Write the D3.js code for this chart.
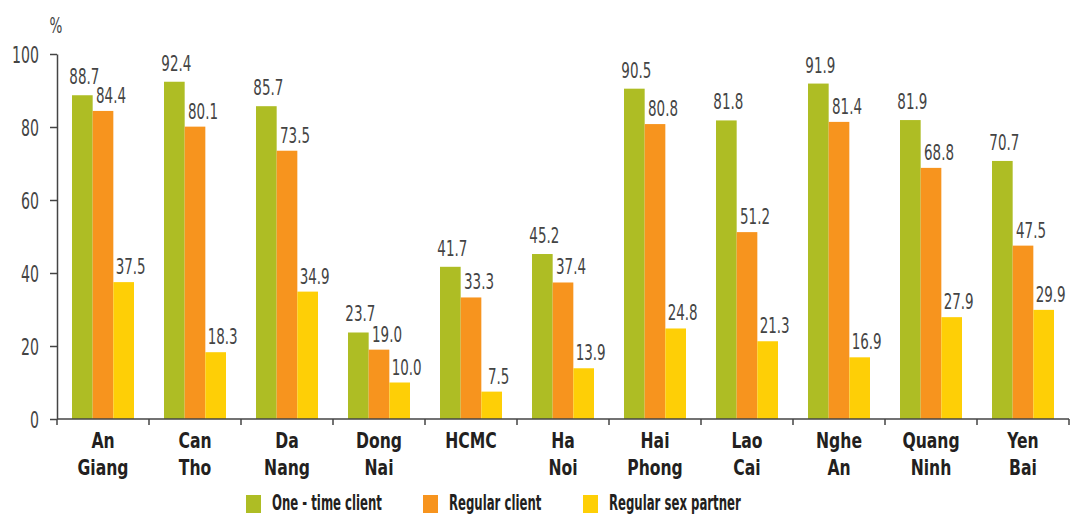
<!DOCTYPE html>
<html>
<head>
<meta charset="utf-8">
<script src="https://cdn.jsdelivr.net/npm/d3@7"></script>
<style>
  html, body { margin: 0; padding: 0; background: #fff; }
  svg { display: block; }
  text { font-family: "Liberation Sans Narrow", "DejaVu Sans Condensed", "Roboto", sans-serif; }
</style>
</head>
<body>
<svg id="chart" width="1070" height="515"></svg>
<script>
// Provinces (two-line labels)
const provinces = [
  ["An", "Giang"], ["Can", "Tho"], ["Da", "Nang"], ["Dong", "Nai"], ["HCMC", ""],
  ["Ha", "Noi"], ["Hai", "Phong"], ["Lao", "Cai"], ["Nghe", "An"], ["Quang", "Ninh"], ["Yen", "Bai"]
];
const seriesNames = ["One - time client", "Regular client", "Regular sex partner"];
const oneTimeClient = [88.7, 92.4, 85.7, 23.7, 41.7, 45.2, 90.5, 81.8, 91.9, 81.9, 70.7];
const regularClient = [84.4, 80.1, 73.5, 19.0, 33.3, 37.4, 80.8, 51.2, 81.4, 68.8, 47.5];
const regularPartner = [37.5, 18.3, 34.9, 10.0, 7.5, 13.9, 24.8, 21.3, 16.9, 27.9, 29.9];
const yTicks = [0, 20, 40, 60, 80, 100];

const seriesValues = [oneTimeClient, regularClient, regularPartner];
const colors = ["#aebd24", "#f7941e", "#fecf06"];

const svg = d3.select("#chart");
const margin = { left: 57, right: 1069, top: 54, bottom: 419 };

// Horizontal compression so the labels read like a condensed face
function widthOf(str, size, weight) {
  const t = svg.append("text").attr("font-size", size).attr("font-weight", weight).text(str);
  const w = t.node().getComputedTextLength();
  t.remove();
  return w;
}
function squeeze(sel, factor) {
  sel.each(function () {
    const el = d3.select(this);
    const tx = +el.attr("x") || 0, ty = +el.attr("y") || 0;
    el.attr("x", 0).attr("y", 0)
      .attr("transform", `translate(${tx},${ty}) scale(${factor},1)`);
  });
}
const valueSize = 20.5, valueFactor = 30 / widthOf("88.7", valueSize, "normal");
const tickSize = 23, tickFactor = 27 / widthOf("100", tickSize, "normal");
const catSize = 21, catFactor = 51 / widthOf("Giang", catSize, "bold");
const legSize = 21, legFactor = 110 / widthOf("One - time client", legSize, "bold");

const keys = provinces.map(p => p.join(" ").trim());
const x = d3.scaleBand().domain(keys).range([margin.left, margin.right]).padding(0);
const xInner = d3.scaleBand().domain(d3.range(3)).range([15, x.bandwidth() - 15]).padding(0);
const y = d3.scaleLinear().domain([0, 100]).range([margin.bottom, margin.top]);

// Bars and value labels
const labelDx = [2, 8, 7];
const labelGap = [11, 8, 8];
keys.forEach((k, i) => {
  const g = svg.append("g").attr("transform", `translate(${x(k)},0)`);
  seriesValues.forEach((vals, s) => {
    const v = vals[i];
    g.append("rect")
      .attr("x", xInner(s))
      .attr("y", y(v))
      .attr("width", xInner.bandwidth())
      .attr("height", y(0) - y(v))
      .attr("fill", colors[s]);
    g.append("text")
      .attr("class", "val")
      .attr("x", xInner(s) + xInner.bandwidth() / 2 + labelDx[s])
      .attr("y", y(v) - labelGap[s])
      .attr("text-anchor", "middle")
      .attr("font-size", valueSize)
      .attr("fill", "#444")
      .text(v.toFixed(1));
  });
});
squeeze(svg.selectAll("text.val"), valueFactor);

// Y axis
const yAxis = d3.axisLeft(y).tickValues(yTicks).tickSize(7).tickPadding(11).tickSizeOuter(0);
const gy = svg.append("g").attr("transform", `translate(${margin.left},0)`).call(yAxis);
gy.select(".domain").attr("stroke", "#444").attr("stroke-width", 1.5);
gy.selectAll(".tick line").attr("stroke", "#444").attr("stroke-width", 1.5);
gy.selectAll(".tick text")
  .attr("font-size", tickSize).attr("fill", "#444").attr("dy", "0.36em")
  .style("font-family", "'Liberation Sans Narrow', 'DejaVu Sans Condensed', sans-serif");
squeeze(gy.selectAll(".tick text"), tickFactor);

const pct = svg.append("text")
  .attr("x", 56).attr("y", 33)
  .attr("text-anchor", "middle")
  .attr("font-size", 22).attr("fill", "#444")
  .text("%");
squeeze(pct, tickFactor);

// X axis with ticks at category boundaries
const gx = svg.append("g");
gx.append("line")
  .attr("x1", margin.left).attr("x2", margin.right)
  .attr("y1", y(0)).attr("y2", y(0))
  .attr("stroke", "#444").attr("stroke-width", 1.5);
const bounds = keys.map(k => x(k)).concat([margin.right]);
gx.selectAll("line.tk").data(bounds).join("line")
  .attr("class", "tk")
  .attr("x1", d => d).attr("x2", d => d)
  .attr("y1", y(0)).attr("y2", y(0) + 6)
  .attr("stroke", "#444").attr("stroke-width", 1.5);

// Category labels
keys.forEach((k, i) => {
  provinces[i].forEach((line, j) => {
    if (!line) return;
    svg.append("text")
      .attr("class", "cat")
      .attr("x", x(k) + x.bandwidth() / 2)
      .attr("y", 448 + j * 27)
      .attr("text-anchor", "middle")
      .attr("font-size", catSize)
      .attr("font-weight", "bold")
      .attr("fill", "#231f20")
      .text(line);
  });
});
squeeze(svg.selectAll("text.cat"), catFactor);

// Legend
const legendX = [246, 423, 583];
seriesNames.forEach((name, s) => {
  svg.append("rect")
    .attr("x", legendX[s]).attr("y", 495)
    .attr("width", 15).attr("height", 18)
    .attr("fill", colors[s]);
  svg.append("text")
    .attr("class", "leg")
    .attr("x", legendX[s] + 26).attr("y", 510)
    .attr("font-size", legSize)
    .attr("font-weight", "bold")
    .attr("fill", "#231f20")
    .text(name);
});
squeeze(svg.selectAll("text.leg"), legFactor);
</script>
</body>
</html>
